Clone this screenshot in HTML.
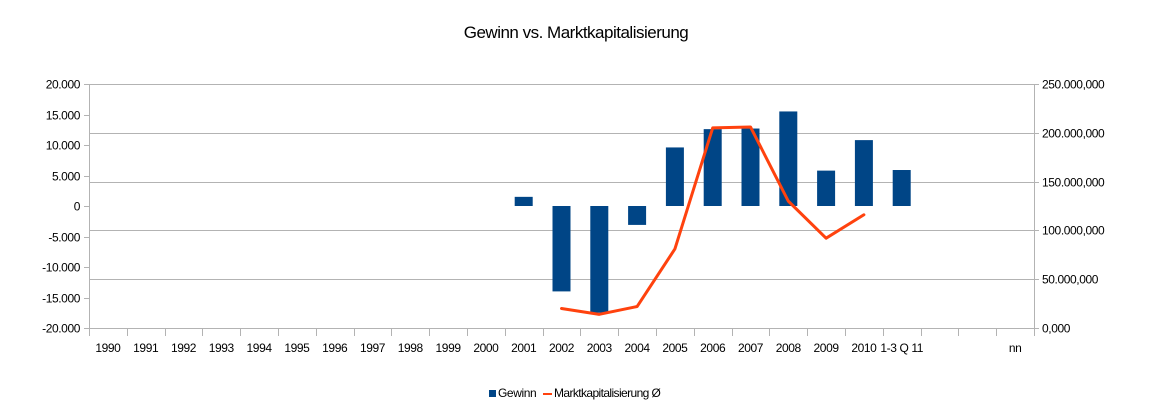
<!DOCTYPE html>
<html><head><meta charset="utf-8"><style>
body{margin:0;background:#fff;}
svg{display:block;font-family:"Liberation Sans",sans-serif;}
</style></head><body>
<svg id="chart" width="1152" height="415">
<text x="576" y="38" text-anchor="middle" font-size="17" fill="#000" letter-spacing="-0.5">Gewinn vs. Marktkapitalisierung</text>
<g id="grid"></g><g id="axes"></g><g id="bars"></g><g id="line"></g>
<g>
<rect x="489" y="390" width="7" height="7" fill="#004586"/>
<text x="498" y="397" font-size="12" letter-spacing="-0.4">Gewinn</text>
<line x1="543" y1="394" x2="552" y2="394" stroke="#ff420e" stroke-width="2"/>
<text x="554" y="397" font-size="12" letter-spacing="-0.6">Marktkapitalisierung Ø</text>
</g>
</svg>
<script>
const categories=["1990","1991","1992","1993","1994","1995","1996","1997","1998","1999","2000","2001","2002","2003","2004","2005","2006","2007","2008","2009","2010","1-3 Q 11","","","nn"];
const gewinn=[null,null,null,null,null,null,null,null,null,null,null,1500,-14000,-17500,-3100,9600,12600,12700,15500,5800,10800,5900,null,null,null];
const markt=[null,null,null,null,null,null,null,null,null,null,null,null,20000000,14000000,22000000,81000000,205000000,206000000,130000000,92000000,116000000,null,null,null,null];
const leftTicks=[-20000,-15000,-10000,-5000,0,5000,10000,15000,20000];
const rightTicks=[0,50000000,100000000,150000000,200000000,250000000];
const X0=89,X1=1034,YT=84,YB=328;
const cw=(X1-X0)/categories.length;
const yL=v=>YB-(v+20000)/40000*(YB-YT);
const yR=v=>YB-v/250000000*(YB-YT);
const xC=i=>X0+cw*(i+0.5);
const NS="http://www.w3.org/2000/svg";
function mk(p,t,a){const e=document.createElementNS(NS,t);for(const k in a)e.setAttribute(k,a[k]);document.getElementById(p).appendChild(e);return e;}
const fmtL=v=>{const s=Math.abs(v).toString().replace(/\B(?=(\d{3})+(?!\d))/g,".");return (v<0?"-":"")+s;};
const fmtR=v=>v===0?"0,000":(v/1000000).toString()+".000,000";
rightTicks.forEach(v=>{
  const y=Math.round(yR(v))+0.5;
  const g=mk('grid','line',{x1:X0,x2:X1+5,y1:y,y2:y,stroke:'#b3b3b3'});
  
  
  const t=mk('axes','text',{x:X1+8,y:y+4,'font-size':12,'letter-spacing':'-0.4'});
  t.textContent=fmtR(v);
  
  
});
leftTicks.forEach(v=>{
  const y=Math.round(yL(v))+0.5;
  mk('axes','line',{x1:X0-5,x2:X0,y1:y,y2:y,stroke:'#b3b3b3'});
  const t=mk('axes','text',{x:X0-9,y:y+4,'font-size':12,'text-anchor':'end','letter-spacing':'-0.4'});
  t.textContent=fmtL(v);
  
  
});
mk('axes','line',{x1:X0+0.5,x2:X0+0.5,y1:YT,y2:YB+8,stroke:'#b3b3b3'});
mk('axes','line',{x1:X1+0.5,x2:X1+0.5,y1:YT,y2:YB+8,stroke:'#b3b3b3'});
for(let i=0;i<=categories.length;i++){const x=Math.round(X0+cw*i)+0.5;mk('axes','line',{x1:x,x2:x,y1:YB,y2:YB+8,stroke:'#b3b3b3'});}
categories.forEach((c,i)=>{
  const t=mk('axes','text',{x:xC(i),y:352,'font-size':12,'text-anchor':'middle','letter-spacing':'-0.4'});
  t.textContent=c;
  
  
});
gewinn.forEach((v,i)=>{
  if(v==null)return;
  const y0=yL(0),y=yL(v);
  const r=mk('bars','rect',{x:xC(i)-9,y:Math.min(y,y0),width:18,height:Math.abs(y-y0),fill:'#004586'});
  
  
});
let d="";
markt.forEach((v,i)=>{if(v==null)return;d+=(d?"L":"M")+xC(i)+","+yR(v);});
const p=mk('line','path',{d:d,fill:'none',stroke:'#ff420e','stroke-width':3,'stroke-linejoin':'round','stroke-linecap':'round'});


</script>
</body></html>
